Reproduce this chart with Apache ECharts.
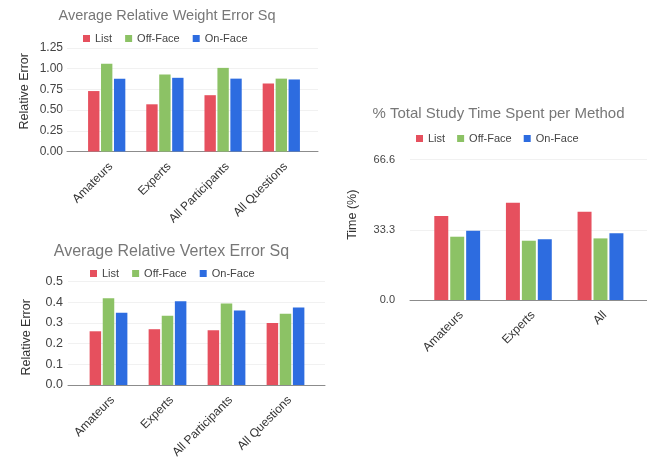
<!DOCTYPE html>
<html>
<head>
<meta charset="utf-8">
<script src="https://cdn.jsdelivr.net/npm/echarts@6/dist/echarts.min.js"></script>
<style>
  html, body { margin: 0; padding: 0; background: #ffffff; }
  #chart { width: 647px; height: 463px; }
</style>
</head>
<body>
<div id="chart"></div>
<script>
// Method names shared by all three panels
const methods = ['List', 'Off-Face', 'On-Face'];

// Panel 1: average relative weight error (squared)
const errorCategories = ['Amateurs', 'Experts', 'All Participants', 'All Questions'];
const weightList = [0.73, 0.57, 0.68, 0.82];
const weightOffFace = [1.06, 0.93, 1.01, 0.88];
const weightOnFace = [0.88, 0.89, 0.88, 0.87];
const weightTicks = [0, 0.25, 0.5, 0.75, 1.0, 1.25];

// Panel 2: average relative vertex error (squared)
const vertexList = [0.26, 0.27, 0.265, 0.30];
const vertexOffFace = [0.42, 0.335, 0.395, 0.345];
const vertexOnFace = [0.35, 0.405, 0.36, 0.375];
const vertexTicks = [0, 0.1, 0.2, 0.3, 0.4, 0.5];

// Panel 3: share of total study time per method (%)
const timeCategories = ['Amateurs', 'Experts', 'All'];
const timeList = [39.8, 46.1, 41.8];
const timeOffFace = [30.0, 28.1, 29.2];
const timeOnFace = [32.8, 28.8, 31.6];
const timeTicks = [0, 33.3, 66.6];

const colors = ['#e6505e', '#8cc265', '#2d6ce0'];
const FONT = 'Liberation Sans, Arial, sans-serif';

// Layout of each panel: outer frame (axis line + grid lines) and inner bar area
const panels = [
  {
    title: 'Average Relative Weight Error Sq', titleX: 167, titleY: 8.5, titleSize: 14.5,
    legendX: 83, legendY: 33, legendSize: 11, legendGap: 13,
    frame: { left: 67, top: 48, width: 251, height: 103.5 },
    bars: { left: 77.6, width: 232.8 },
    categories: errorCategories, ticks: weightTicks, digits: 2, labelSize: 12, labelRight: 63,
    yName: 'Relative Error', nameGap: 36, namePad: [0, 0, 0, 17],
    series: [weightList, weightOffFace, weightOnFace]
  },
  {
    title: 'Average Relative Vertex Error Sq', titleX: 171.5, titleY: 243.5, titleSize: 16,
    legendX: 90, legendY: 268, legendSize: 11, legendGap: 13,
    frame: { left: 68, top: 281.7, width: 257, height: 103.3 },
    bars: { left: 79, width: 236 },
    categories: errorCategories, ticks: vertexTicks, digits: 1, labelSize: 12.5, labelRight: 63,
    yName: 'Relative Error', nameGap: 35, namePad: [0, 8, 0, 0],
    series: [vertexList, vertexOffFace, vertexOnFace]
  },
  {
    title: '% Total Study Time Spent per Method', titleX: 498.5, titleY: 106.5, titleSize: 15,
    legendX: 416, legendY: 133, legendSize: 11, legendGap: 12,
    frame: { left: 410, top: 159.5, width: 237, height: 140.5 },
    bars: { left: 421.4, width: 214.9 },
    categories: timeCategories, ticks: timeTicks, digits: 1, labelSize: 11, labelRight: 395,
    yName: 'Time (%)', nameGap: 51, namePad: [0, 0, 0, 30],
    series: [timeList, timeOffFace, timeOnFace]
  }
];

const option = {
  backgroundColor: '#ffffff',
  animation: false,
  textStyle: { fontFamily: FONT },
  title: [], legend: [], grid: [], xAxis: [], yAxis: [], series: []
};

panels.forEach((p, i) => {
  const ticks = p.ticks;
  const yMin = ticks[0];
  const yMax = ticks[ticks.length - 1];
  const yStep = ticks[1] - ticks[0];

  // titles are positioned by their centre
  option.title.push({
    text: p.title, left: p.titleX, top: p.titleY, textAlign: 'center',
    textStyle: { fontFamily: FONT, fontSize: p.titleSize, fontWeight: 'normal', color: '#777777' },
    padding: 0
  });
  option.legend.push({
    data: methods, left: p.legendX, top: p.legendY, padding: 0,
    itemWidth: 7, itemHeight: 7, itemGap: p.legendGap, icon: 'rect',
    textStyle: { fontFamily: FONT, fontSize: p.legendSize, color: '#444444' }
  });

  // frame grid: long baseline, faint grid lines, y labels and axis name
  option.grid.push({ left: p.frame.left, top: p.frame.top, width: p.frame.width, height: p.frame.height, containLabel: false });
  // bar grid: same vertical extent, narrower horizontal band for the groups
  option.grid.push({ left: p.bars.left, top: p.frame.top, width: p.bars.width, height: p.frame.height, containLabel: false });

  option.xAxis.push({
    type: 'value', gridIndex: 2 * i, min: 0, max: 1,
    axisLine: { show: true, onZero: false, lineStyle: { color: '#8c8c8c', width: 1 } },
    axisTick: { show: false }, axisLabel: { show: false }, splitLine: { show: false }
  });
  option.xAxis.push({
    type: 'category', gridIndex: 2 * i + 1, data: p.categories,
    axisLine: { show: false }, axisTick: { show: false },
    axisLabel: {
      rotate: 45, margin: 9, verticalAlign: 'top', fontFamily: FONT, fontSize: 12,
      color: '#333333', interval: 0
    }
  });

  option.yAxis.push({
    type: 'value', gridIndex: 2 * i, min: yMin, max: yMax, interval: yStep,
    name: p.yName, nameLocation: 'middle', nameGap: p.nameGap,
    nameTextStyle: { fontFamily: FONT, fontSize: 12.5, color: '#333333', padding: p.namePad },
    axisLine: { show: false }, axisTick: { show: false },
    axisLabel: {
      margin: p.frame.left - p.labelRight, fontFamily: FONT, fontSize: p.labelSize, color: '#444444',
      formatter: v => Number(v).toFixed(p.digits)
    },
    splitLine: { show: true, lineStyle: { color: '#f1f1f1', width: 1 } }
  });
  option.yAxis.push({
    type: 'value', gridIndex: 2 * i + 1, min: yMin, max: yMax, interval: yStep,
    show: false, splitLine: { show: false }
  });

  p.series.forEach((values, k) => {
    option.series.push({
      type: 'bar', name: methods[k], data: values,
      xAxisIndex: 2 * i + 1, yAxisIndex: 2 * i + 1,
      barCategoryGap: '36%', barGap: '14%',
      itemStyle: { color: colors[k] }
    });
  });
});

const chart = echarts.init(document.getElementById('chart'), null, { renderer: 'canvas' });
chart.setOption(option);
</script>
</body>
</html>
